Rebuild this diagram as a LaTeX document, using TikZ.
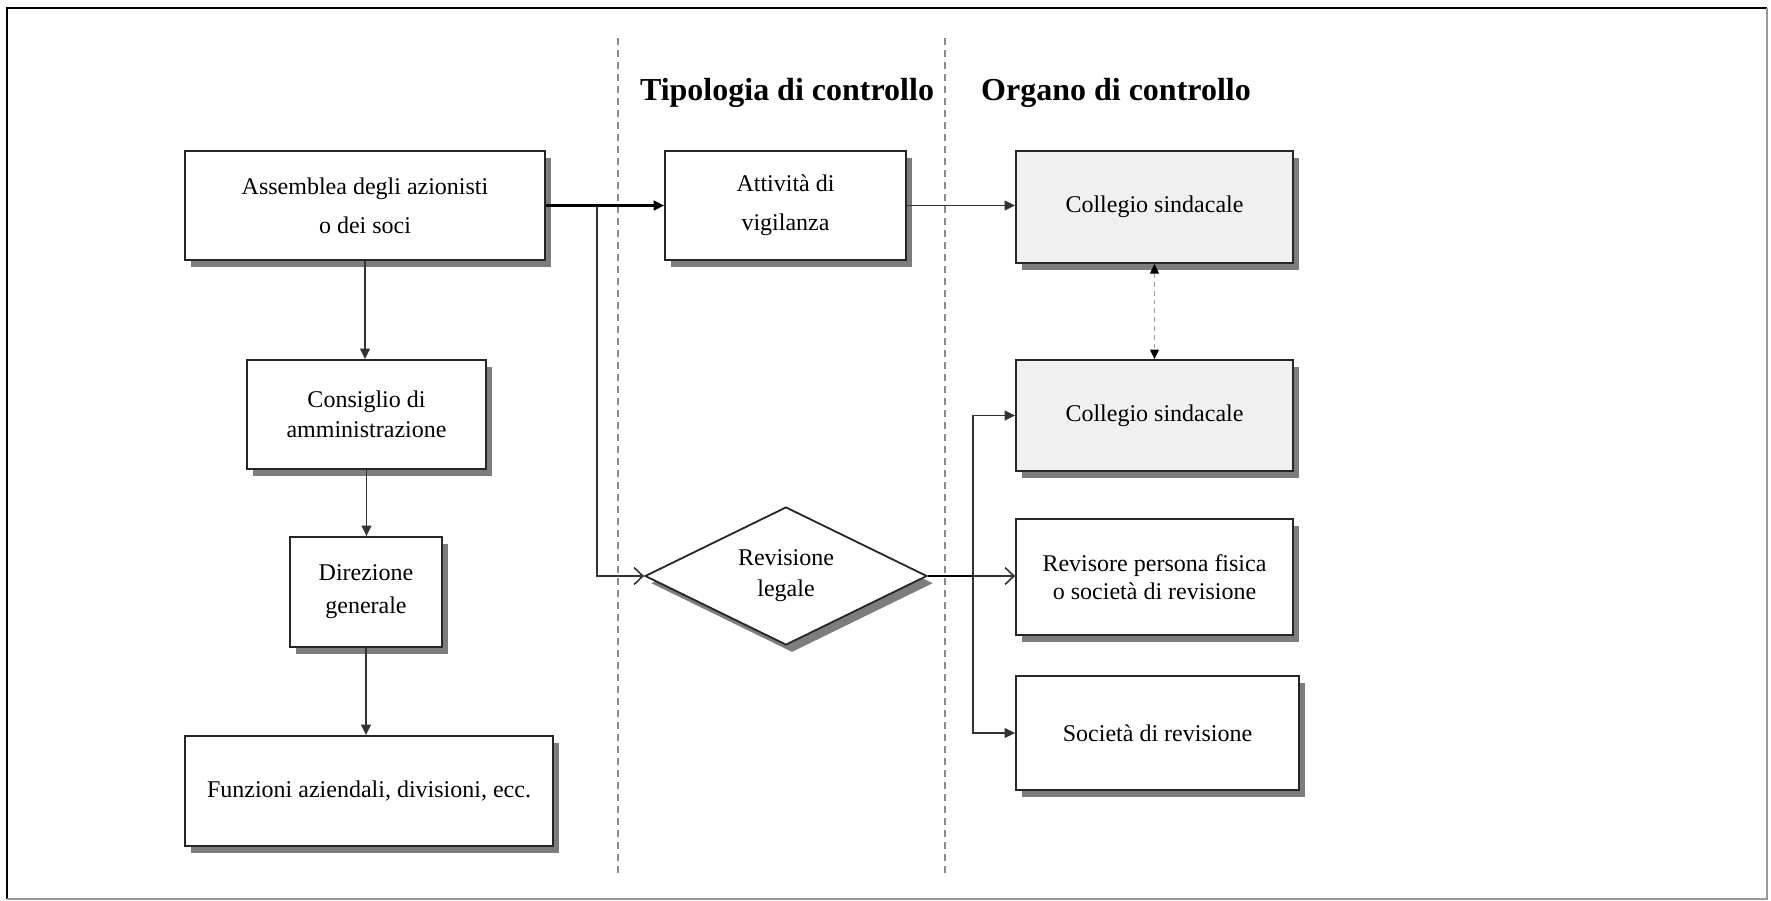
\documentclass[tikz,border=0pt]{standalone}
\usepackage{fontspec}
\setmainfont{Liberation Serif}
\usetikzlibrary{shapes.geometric,arrows.meta,shadows}
\begin{document}
\begin{tikzpicture}[x=0.25pt,y=-0.25pt,
  boxshadow/.style={drop shadow={shadow xshift=1.5pt, shadow yshift=-1.8pt, fill=black!60, opacity=0.85}},
  box/.style={draw=black!85, line width=0.45pt, fill=white, rectangle, inner sep=0pt, align=center,
     font=\fontsize{6}{7.5}\selectfont, boxshadow},
  graybox/.style={box, fill=black!6},
  hdr/.style={font=\bfseries\fontsize{8}{9.6}\selectfont, inner sep=0pt},
  divider/.style={draw=black!45, line width=0.45pt, dash pattern=on 1.8pt off 1.2pt},
  conn/.style={draw=black!80, line width=0.4pt},
  mainconn/.style={draw=black, line width=0.65pt},
  fillarrow/.style={-{Triangle[length=2.6pt,width=2.4pt]}},
  openarrow/.style={-{Straight Barb[length=2.2pt,width=4.2pt,line width=0.4pt]}},
  dashconn/.style={draw=black!40, line width=0.35pt, dash pattern=on 1.2pt off 1pt,
     {Triangle[length=2.4pt,width=2.2pt,fill=black,color=black]}-{Triangle[length=2.4pt,width=2.2pt,fill=black,color=black]}}
]
\useasboundingbox (0,0) rectangle (1771,901);
% frame
\draw[black, line width=0.7pt] (7,899) -- (7,8) -- (1767,8);
\draw[black!40, line width=0.4pt] (1767,8) -- (1767,899) -- (7,899);
% dividers
\coordinate (d1t) at (618,38); \coordinate (d1b) at (618,874);
\coordinate (d2t) at (945,38); \coordinate (d2b) at (945,874);
\draw[divider] (d1t) -- (d1b);
\draw[divider] (d2t) -- (d2b);
% headers
\node[hdr] (tip) at (787,93) {Tipologia di controllo};
\node[hdr] (org) at (1116,93) {Organo di controllo};
% boxes
\node[box, minimum width=90pt, minimum height=27.25pt, font=\fontsize{6}{9.75}\selectfont] (assemblea) at (365,205.5) {Assemblea degli azionisti\\o dei soci};
\node[box, minimum width=60.25pt, minimum height=27.25pt, font=\fontsize{6}{9.75}\selectfont] (attivita) at (785.5,205.5) {Attività di\\vigilanza};
\node[graybox, minimum width=69.25pt, minimum height=28pt] (coll1) at (1154.5,207) {Collegio sindacale};
\node[graybox, minimum width=69.25pt, minimum height=27.75pt] (coll2) at (1154.5,415.5) {Collegio sindacale};
\node[box, minimum width=69.25pt, minimum height=29pt, font=\fontsize{6}{6.9}\selectfont] (revisore) at (1154.5,577) {Revisore persona fisica\\o società di revisione};
\node[box, minimum width=70.75pt, minimum height=28.5pt] (societa) at (1157.5,733) {Società di revisione};
\node[box, minimum width=59.75pt, minimum height=27.25pt] (consiglio) at (366.5,414.5) {Consiglio di\\amministrazione};
\node[box, minimum width=38pt, minimum height=27.5pt, font=\fontsize{6}{8.25}\selectfont] (direzione) at (366,592) {Direzione\\generale};
\node[box, minimum width=92pt, minimum height=27.5pt] (funzioni) at (369,791) {Funzioni aziendali, divisioni, ecc.};
\node[draw=black!85, line width=0.45pt, fill=white, diamond, aspect=2.04, inner sep=0pt,
      minimum width=70.5pt, minimum height=34.5pt, align=center, font=\fontsize{6}{7.75}\selectfont,
      boxshadow] (diamond) at (786,576) {Revisione\\legale};
% connectors
\coordinate (br1) at (597,205.5);
\coordinate (br2) at (973,576);
\draw[mainconn, fillarrow] (assemblea.east) -- (attivita.west);
\draw[conn, openarrow] (br1) |- (diamond.west);
\draw[conn, fillarrow] (attivita.east) -- (attivita.east -| coll1.west);
\draw[conn, fillarrow] (assemblea.south) -- (assemblea.south |- consiglio.north);
\draw[conn, fillarrow] (consiglio.south) -- (consiglio.south |- direzione.north);
\draw[conn, fillarrow] (direzione.south) -- (direzione.south |- funzioni.north);
\draw[dashconn] (coll1.south) -- (coll2.north);
\draw[mainconn] (diamond.east) -- (br2);
\draw[conn, openarrow] (br2) -- (br2 -| revisore.west);
\draw[conn, fillarrow] (br2) |- (coll2.west);
\draw[conn, fillarrow] (br2) |- (societa.west);
\end{tikzpicture}
\end{document}
